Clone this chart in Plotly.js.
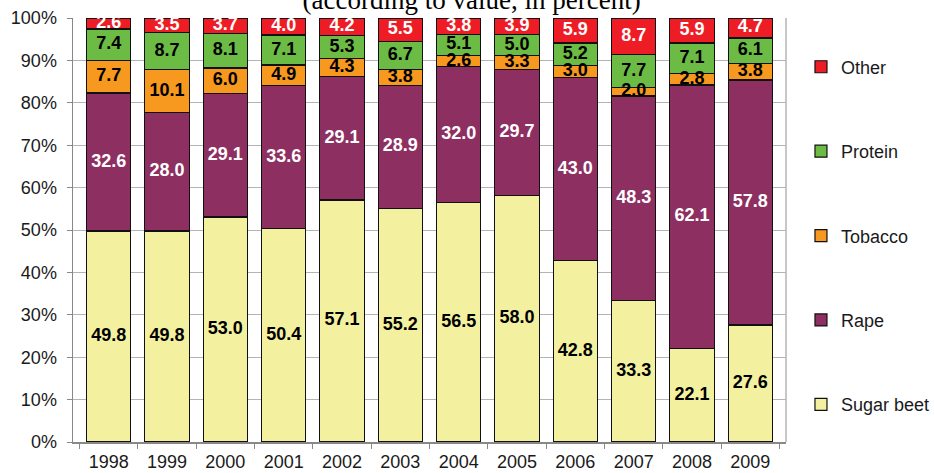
<!DOCTYPE html>
<html>
<head>
<meta charset="utf-8">
<script src="https://cdn.plot.ly/plotly-3.0.1.min.js"></script>
<style>html,body{margin:0;padding:0;background:#fff;} #chart{width:934px;height:473px;}</style>
</head>
<body>
<div id="chart"></div>
<script>
const years = ["1998","1999","2000","2001","2002","2003","2004","2005","2006","2007","2008","2009"];
const sugarBeet = [49.8, 49.8, 53.0, 50.4, 57.1, 55.2, 56.5, 58.0, 42.8, 33.3, 22.1, 27.6];
const rape      = [32.6, 28.0, 29.1, 33.6, 29.1, 28.9, 32.0, 29.7, 43.0, 48.3, 62.1, 57.8];
const tobacco   = [7.7, 10.1, 6.0, 4.9, 4.3, 3.8, 2.6, 3.3, 3.0, 2.0, 2.8, 3.8];
const protein   = [7.4, 8.7, 8.1, 7.1, 5.3, 6.7, 5.1, 5.0, 5.2, 7.7, 7.1, 6.1];
const other     = [2.6, 3.5, 3.7, 4.0, 4.2, 5.5, 3.8, 3.9, 5.9, 8.7, 5.9, 4.7];
const seriesNames = ["Sugar beet", "Rape", "Tobacco", "Protein", "Other"];
const yTickVals = [0,10,20,30,40,50,60,70,80,90,100];
const yTickText = ["0%","10%","20%","30%","40%","50%","60%","70%","80%","90%","100%"];

const seriesData = [sugarBeet, rape, tobacco, protein, other];
const colors = ["#F3F0A0", "#8E2F62", "#F7981F", "#6CBB45", "#EE1D25"];
const textColors = ["#000000", "#FFFFFF", "#000000", "#000000", "#FFFFFF"];

// bars (normalized to 100% by Plotly's barnorm)
const barTraces = seriesData.map((vals, i) => ({
  type: "bar",
  name: seriesNames[i],
  legendgroup: "g" + i,
  legendrank: 5 - i,
  x: years,
  y: vals,
  marker: {color: colors[i], line: {color: "#111111", width: 1.2}},
  hoverinfo: "skip"
}));

// value labels, placed at the middle of each stacked segment (in percent of the column total)
const totals = years.map((_, j) => seriesData.reduce((s, arr) => s + arr[j], 0));
const labelTraces = seriesData.map((vals, i) => ({
  type: "scatter",
  mode: "text",
  showlegend: false,
  x: years,
  y: vals.map((v, j) => {
    let below = 0;
    for (let k = 0; k < i; k++) below += seriesData[k][j];
    return (below + v / 2) / totals[j] * 100;
  }),
  text: vals.map(v => v.toFixed(1)),
  textposition: "middle center",
  cliponaxis: false,
  textfont: {family: "Liberation Sans, Arial, sans-serif", size: 18, color: textColors[i], weight: "bold"},
  hoverinfo: "skip"
}));

const layout = {
  width: 934,
  height: 473,
  margin: {l: 73, r: 148, t: 18, b: 31, autoexpand: false},
  paper_bgcolor: "#ffffff",
  plot_bgcolor: "#ffffff",
  barmode: "stack",
  barnorm: "percent",
  bargap: 0.24,
  font: {family: "Liberation Sans, Arial, sans-serif", size: 18, color: "#1a1a1a"},
  title: {
    text: "(according to value, in percent)",
    font: {family: "Liberation Serif, Times New Roman, serif", size: 27, color: "#000"},
    x: 0.505, xanchor: "center", xref: "container",
    y: 1, yanchor: "middle", yref: "container"
  },
  xaxis: {
    type: "category",
    tickson: "boundaries",
    ticks: "outside",
    ticklen: 5,
    tickcolor: "#888888",
    showline: true,
    linecolor: "#888888",
    linewidth: 1.5,
    showgrid: false,
    ticklabelstandoff: 3,
    tickfont: {size: 18, color: "#1a1a1a"}
  },
  yaxis: {
    range: [0, 100],
    tickmode: "array",
    tickvals: yTickVals,
    ticktext: yTickText,
    ticks: "outside",
    ticklen: 5,
    tickcolor: "#888888",
    showline: true,
    linecolor: "#888888",
    linewidth: 1.5,
    showgrid: true,
    gridcolor: "#b4b4b4",
    gridwidth: 1,
    zeroline: false,
    ticklabelstandoff: 6,
    tickfont: {size: 18, color: "#1a1a1a"}
  },
  shapes: [{
    type: "line", xref: "paper", yref: "paper", x0: 1, x1: 1, y0: 0, y1: 1,
    line: {color: "#b4b4b4", width: 1.5}
  }],
  showlegend: true,
  legend: {
    x: 1.021, xanchor: "left", xref: "paper",
    y: 0.928, yanchor: "top", yref: "paper",
    traceorder: "grouped",
    tracegroupgap: 58,
    font: {size: 18, color: "#1a1a1a"},
    bgcolor: "rgba(0,0,0,0)",
    borderwidth: 0
  }
};

Plotly.newPlot("chart", barTraces.concat(labelTraces), layout, {displayModeBar: false, staticPlot: true});
</script>
</body>
</html>
